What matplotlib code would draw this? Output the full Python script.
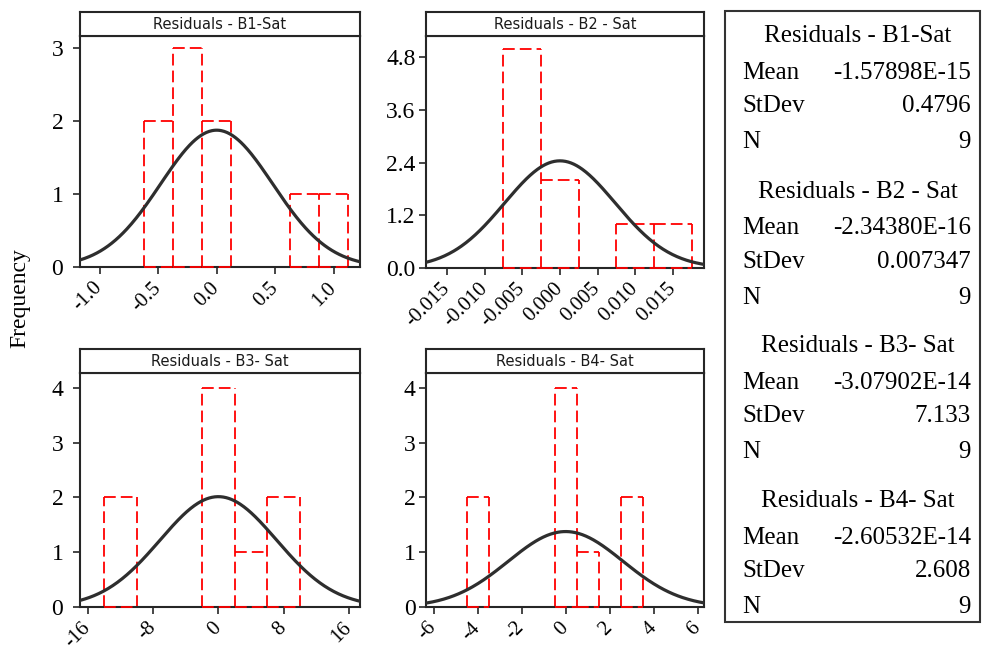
import numpy as np
import matplotlib.pyplot as plt
from matplotlib.patches import Rectangle

# values
titles = ["Residuals - B1-Sat", "Residuals - B2 - Sat", "Residuals - B3- Sat", "Residuals - B4- Sat"]

b1_centers = [-0.5, -0.25, 0.0, 0.25, 0.5, 0.75, 1.0]
b1_counts = [2, 3, 2, 0, 0, 1, 1]
b2_centers = [-0.005, 0.0, 0.005, 0.010, 0.015]
b2_counts = [5, 2, 0, 1, 1]
b3_centers = [-12, -8, -4, 0, 4, 8]
b3_counts = [2, 0, 0, 4, 1, 2]
b4_centers = [-4, -3, -2, -1, 0, 1, 2, 3]
b4_counts = [2, 0, 0, 0, 4, 1, 0, 2]
bin_widths = [0.25, 0.005, 4, 1]

means = [-1.57898e-15, -2.34380e-16, -3.07902e-14, -2.60532e-14]
stdevs = [0.4796, 0.007347, 7.133, 2.608]
n_obs = [9, 9, 9, 9]
mean_labels = ["-1.57898E-15", "-2.34380E-16", "-3.07902E-14", "-2.60532E-14"]
stdev_labels = ["0.4796", "0.007347", "7.133", "2.608"]

x_ticks = [[-1.0, -0.5, 0.0, 0.5, 1.0],
           [-0.015, -0.010, -0.005, 0.0, 0.005, 0.010, 0.015],
           [-16, -8, 0, 8, 16],
           [-6, -4, -2, 0, 2, 4, 6]]
x_ticklabels = [["-1.0", "-0.5", "0.0", "0.5", "1.0"],
                ["-0.015", "-0.010", "-0.005", "0.000", "0.005", "0.010", "0.015"],
                ["-16", "-8", "0", "8", "16"],
                ["-6", "-4", "-2", "0", "2", "4", "6"]]
y_ticks = [[0, 1, 2, 3],
           [0.0, 1.2, 2.4, 3.6, 4.8],
           [0, 1, 2, 3, 4],
           [0, 1, 2, 3, 4]]
y_ticklabels = [["0", "1", "2", "3"],
                ["0.0", "1.2", "2.4", "3.6", "4.8"],
                ["0", "1", "2", "3", "4"],
                ["0", "1", "2", "3", "4"]]
x_lims = [(-1.168, 1.225), (-0.0178, 0.01915), (-16.93, 17.34), (-6.35, 6.29)]
y_lims = [(0, 3.16), (0, 5.29), (0, 4.27), (0, 4.27)]

centers = [b1_centers, b2_centers, b3_centers, b4_centers]
counts = [b1_counts, b2_counts, b3_counts, b4_counts]

W, H = 982, 650
serif = "Liberation Serif"
dark = "#262626"
dash = (0, (6.5, 2.8))

def box(x0, y0, x1, y1):
    # pixel box (top-left origin) -> figure fraction
    return [x0 / W, 1 - y1 / H, (x1 - x0) / W, (y1 - y0) / H]

fig = plt.figure(figsize=(W / 100, H / 100), dpi=100)

panels = [(80, 36, 360, 267), (426, 36, 704, 268), (80, 373, 360, 607), (426, 373, 704, 607)]
ypads = [7, 2.5, 7, 2.5]

for i, (x0, y0, x1, y1) in enumerate(panels):
    ax = fig.add_axes(box(x0, y0, x1, y1))
    c = np.array(centers[i], dtype=float)
    n = np.array(counts[i], dtype=float)
    w = bin_widths[i]
    keep = n > 0

    # dashed histogram outlines; verticals all start at 0 so shared edges stay dashed
    edges = np.append(c - w / 2, c[-1] + w / 2)
    padded = np.concatenate([[0], n, [0]])
    edge_h = np.maximum(padded[:-1], padded[1:])
    ax.vlines(edges[edge_h > 0], 0, edge_h[edge_h > 0], colors="red",
              linewidth=1.3, linestyles=dash, zorder=2, clip_on=False)
    ax.hlines(n[keep], c[keep] - w / 2, c[keep] + w / 2, colors="red",
              linewidth=1.3, linestyles=dash, zorder=2)
    ax.hlines(np.zeros(keep.sum()), c[keep] - w / 2, c[keep] + w / 2, colors="red",
              linewidth=1.3, linestyles=dash, zorder=4, clip_on=False)

    xs = np.linspace(x_lims[i][0], x_lims[i][1], 300)
    scale = n_obs[i] * w / (stdevs[i] * np.sqrt(2 * np.pi))
    ys = scale * np.exp(-0.5 * ((xs - means[i]) / stdevs[i]) ** 2)
    ax.plot(xs, ys, color="#2e2e2e", linewidth=2.3, zorder=3)

    ax.set_xlim(x_lims[i])
    ax.set_ylim(y_lims[i])
    ax.set_xticks(x_ticks[i])
    ax.set_xticklabels(x_ticklabels[i], rotation=45, ha="right", va="center",
                       rotation_mode="anchor", fontfamily=serif, fontsize=15)
    ax.set_yticks(y_ticks[i])
    ax.set_yticklabels(y_ticklabels[i], fontfamily=serif, fontsize=17)
    ax.tick_params(axis="both", direction="out", length=5, width=1.2, color=dark)
    ax.tick_params(axis="x", pad=8)
    ax.tick_params(axis="y", pad=ypads[i])
    for sp in ax.spines.values():
        sp.set_color(dark)
        sp.set_linewidth(1.5)

    # strip title above each panel
    st = fig.add_axes(box(x0, y0 - 24, x1, y0))
    st.set_xticks([])
    st.set_yticks([])
    for sp in st.spines.values():
        sp.set_color(dark)
        sp.set_linewidth(1.5)
    st.text(0.5, 0.48, titles[i], ha="center", va="center", fontsize=10.5,
            fontfamily="DejaVu Sans", color="#1a1a1a")

fig.text(20 / W, 1 - 298 / H, "Frequency", rotation=90, ha="center", va="center",
         fontfamily=serif, fontsize=17)

# summary box on the right
fig.add_artist(Rectangle((725 / W, 1 - 622 / H), 255 / W, 611 / H, transform=fig.transFigure,
                         fill=False, edgecolor="#333333", linewidth=1.5))
group_tops = [41.7, 197.5, 351.7, 506.7]
row_offsets = [0, 37, 70, 106]
for i, base in enumerate(group_tops):
    fig.text(858 / W, 1 - base / H, titles[i], ha="center", va="baseline",
             fontfamily=serif, fontsize=18)
    rows = [("Mean", mean_labels[i]), ("StDev", stdev_labels[i]), ("N", str(n_obs[i]))]
    for (lab, val), off in zip(rows, row_offsets[1:]):
        yy = 1 - (base + off) / H
        fig.text(742 / W, yy, lab, ha="left", va="baseline", fontfamily=serif, fontsize=18)
        fig.text(971 / W, yy, val, ha="right", va="baseline", fontfamily=serif, fontsize=18)

fig.savefig("out.png", dpi=100)
